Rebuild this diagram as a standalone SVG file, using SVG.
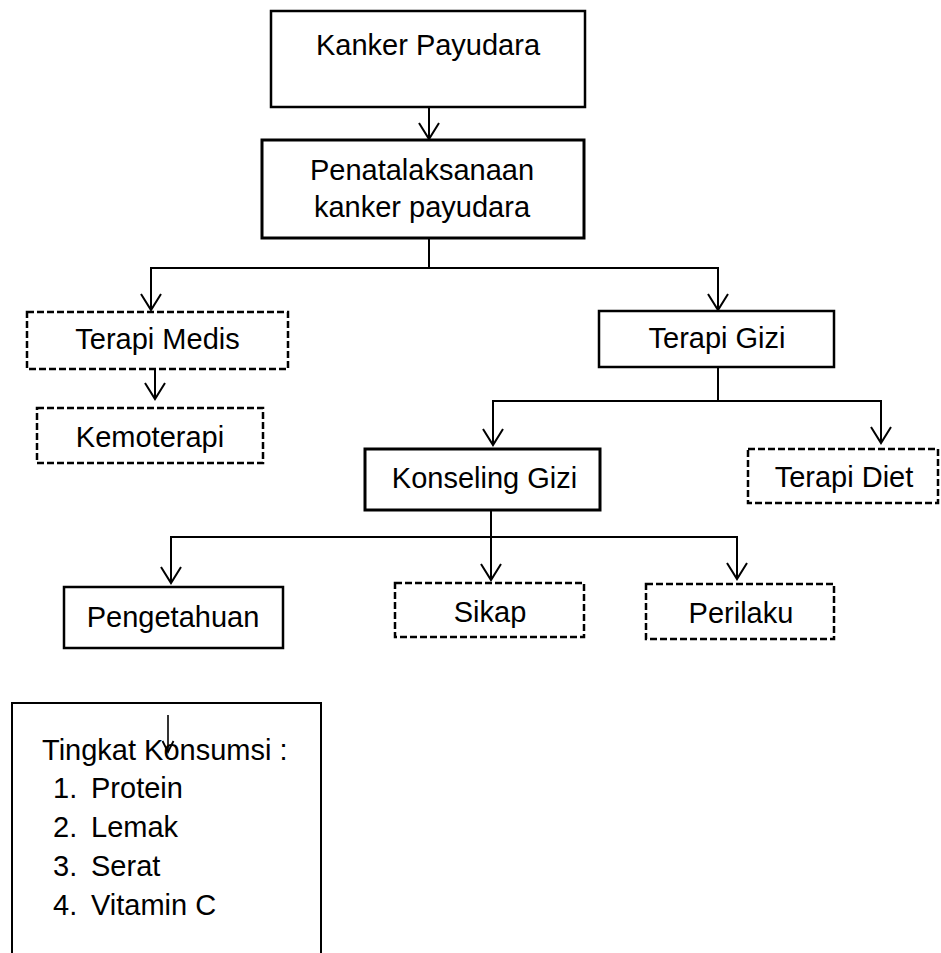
<svg xmlns="http://www.w3.org/2000/svg" width="941" height="953" viewBox="0 0 941 953">
<style>
.box{fill:#fff;stroke:#000;stroke-width:2.5}
.thick{stroke-width:3}
.dash{fill:#fff;stroke:#000;stroke-width:2.5;stroke-dasharray:7 3}
.t{font-family:"Liberation Sans",Arial,sans-serif;font-size:29px;fill:#000;text-anchor:middle}
.tl{font-family:"Liberation Sans",Arial,sans-serif;font-size:29px;fill:#000}
.c{fill:none;stroke:#000;stroke-width:2}
.cs{fill:none;stroke:#000;stroke-width:1.6}
</style>
<defs>
<marker id="arr" viewBox="-18 -12 20 24" refX="0" refY="0" markerWidth="20" markerHeight="24" markerUnits="userSpaceOnUse" orient="auto">
<path d="M-16,-10 L0,0 L-16,10" fill="none" stroke="#000" stroke-width="2"/>
</marker>
<marker id="arrs" viewBox="-14 -8 16 16" refX="0" refY="0" markerWidth="16" markerHeight="16" markerUnits="userSpaceOnUse" orient="auto">
<path d="M-11,-5.5 L0,0 L-11,5.5" fill="none" stroke="#000" stroke-width="1.8"/>
</marker>
</defs>
<rect width="941" height="953" fill="#fff"/>
<g id="connectors">
<path class="c" d="M429,107 V139" marker-end="url(#arr)"/>
<path class="c" d="M429,230 V268"/>
<path class="c" d="M429,268 H151 V310" marker-end="url(#arr)"/>
<path class="c" d="M429,268 H718 V310" marker-end="url(#arr)"/>
<path class="c" d="M155,369 V399" marker-end="url(#arr)"/>
<path class="c" d="M718,367 V401"/>
<path class="c" d="M718,401 H493 V445" marker-end="url(#arr)"/>
<path class="c" d="M718,401 H881 V443" marker-end="url(#arr)"/>
<path class="c" d="M491,500 V580" marker-end="url(#arr)"/>
<path class="c" d="M491,537 H171 V583" marker-end="url(#arr)"/>
<path class="c" d="M491,537 H737 V579" marker-end="url(#arr)"/>
</g>
<g id="kanker-payudara">
<rect class="box" x="271" y="11" width="314" height="96"/>
<text class="t" x="428" y="55">Kanker Payudara</text>
</g>
<g id="penatalaksanaan">
<rect class="box thick" x="262" y="140" width="322" height="98"/>
<text class="t" x="422" y="180">Penatalaksanaan</text>
<text class="t" x="422" y="217">kanker payudara</text>
</g>
<g id="terapi-medis">
<rect class="dash" x="27" y="312" width="261" height="57"/>
<text class="t" x="157.5" y="349">Terapi Medis</text>
</g>
<g id="kemoterapi">
<rect class="dash" x="37" y="408" width="226" height="55"/>
<text class="t" x="150" y="447">Kemoterapi</text>
</g>
<g id="terapi-gizi">
<rect class="box" x="599" y="311" width="235" height="56"/>
<text class="t" x="717" y="348">Terapi Gizi</text>
</g>
<g id="konseling-gizi">
<rect class="box thick" x="365" y="449" width="235" height="61"/>
<text class="t" x="484.5" y="488">Konseling Gizi</text>
</g>
<g id="terapi-diet">
<rect class="dash" x="748" y="449" width="190" height="54"/>
<text class="t" x="844" y="487">Terapi Diet</text>
</g>
<g id="pengetahuan">
<rect class="box" x="64" y="587" width="219" height="61"/>
<text class="t" x="173" y="627">Pengetahuan</text>
</g>
<g id="sikap">
<rect class="dash" x="395" y="583" width="189" height="54"/>
<text class="t" x="490" y="622">Sikap</text>
</g>
<g id="perilaku">
<rect class="dash" x="646" y="584" width="188" height="55"/>
<text class="t" x="741" y="623">Perilaku</text>
</g>
<g id="tingkat-konsumsi">
<path d="M12,960 V703 H321 V960" fill="#fff" stroke="#000" stroke-width="2"/>
<text class="tl" x="42" y="760">Tingkat Konsumsi :</text>
<text class="tl" x="53" y="798">1.</text><text class="tl" x="91" y="798">Protein</text>
<text class="tl" x="53" y="837">2.</text><text class="tl" x="91" y="837">Lemak</text>
<text class="tl" x="53" y="876">3.</text><text class="tl" x="91" y="876">Serat</text>
<text class="tl" x="53" y="915">4.</text><text class="tl" x="91" y="915">Vitamin C</text>
<path class="cs" d="M168,715 V752" marker-end="url(#arrs)"/>
</g>
</svg>
